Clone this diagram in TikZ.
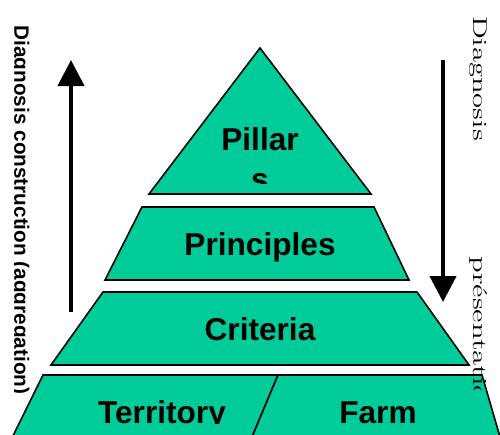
\documentclass[tikz,border=0pt]{standalone}
\usepackage{fontspec}
\newfontfamily\tierfont{Liberation Sans}
\usepackage{tikz}
\usetikzlibrary{arrows.meta,positioning}

\definecolor{layergreen}{RGB}{0,204,153}

\tikzset{
	layer/.style={fill=layergreen, draw=black, line width=0.9pt},
	tier/.style={font=\tierfont\bfseries\fontsize{18}{22.7}\selectfont, inner sep=0pt, anchor=base, align=center},
	flow/.style={line width=2.3pt, -{Triangle[width=0.52cm,length=0.52cm]}},
	sidenote/.style={rotate=-90, inner sep=0pt},
}

\begin{document}
\begin{tikzpicture}
		\useasboundingbox (0,0) rectangle (10,8.68);
		\clip (0,0) rectangle (10,8.68);
		
		% pyramid
		\filldraw[layer] (5.2,7.72) -- (7.42,4.8) -- (2.98,4.8) -- cycle;
		\filldraw[layer] (2.84,4.54) -- (7.48,4.54) -- (8.18,3.08) -- (2.1,3.08) -- cycle;
		\filldraw[layer] (2.06,2.84) -- (8.34,2.84) -- (9.38,1.38) -- (1.02,1.38) -- cycle;
		\filldraw[layer] (0.86,1.18) -- (5.56,1.18) -- (4.94,-0.3) -- (0.13,-0.3) -- cycle;
		\filldraw[layer] (5.56,1.18) -- (9.64,1.18) -- (10.07,-0.3) -- (4.94,-0.3) -- cycle;
		
		\begin{scope}
			\clip (2,5.02) rectangle (8,7.8);
			\node[tier] (P) at (5.2,4.88) {Pillar\\s};
		\end{scope}
		\node[tier] (Pr) at (5.2,3.58) {Principles};
		\node[tier] (Cr) at (5.2,1.88) {Criteria};
		\begin{scope}
			\clip (0,0.22) rectangle (10,1.18);
			\node[tier] (T) at (3.24,0.21) {Territory};
			\node[tier] (F) at (7.56,0.21) {Farm};
		\end{scope}
		
		% arrows
		\coordinate (upfoot) at (1.42,2.44);
		\coordinate (uptip) at (1.42,7.48);
		\coordinate (downtop) at (8.86,7.48);
		\coordinate (downtip) at (8.86,2.64);
		\draw[flow] (upfoot) -- (uptip);
		\draw[flow] (downtop) -- (downtip);
		
		\begin{scope}
			\clip (0.29,0) rectangle (1,8.68);
			\node[sidenote, anchor=base, font=\tierfont\bfseries\fontsize{11.8}{14}\selectfont] (agg) at (0.29,4.48) {Diagnosis construction (aggregation)};
		\end{scope}
		\node[sidenote, anchor=base, font=\fontsize{11.4}{13}\selectfont] (diag) at (9.47,7.11) {\scalebox{1.53}[1]{Diagnosis}};
		\begin{scope}
			\clip (9,0.89) rectangle (10,8.68);
			\node[sidenote, anchor=base west, font=\fontsize{11.4}{13}\selectfont] (pres) at (9.47,3.56) {\scalebox{1.53}[1]{présentation}};
		\end{scope}
\end{tikzpicture}
\end{document}
